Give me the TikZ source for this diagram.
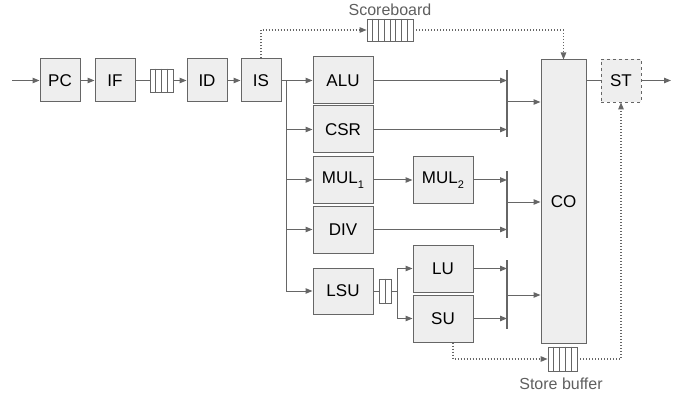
\documentclass[tikz,border=0pt]{standalone}
\usepackage{fontspec}
\setmainfont{Liberation Sans}
\usetikzlibrary{arrows.meta,calc}
\definecolor{linegray}{HTML}{666666}
\definecolor{boxgray}{HTML}{EEEEEE}
\definecolor{labelgray}{HTML}{5F5F5F}
\newcommand{\lowidx}[1]{\raisebox{-4.5pt}{\fontsize{11}{12}\selectfont #1}}
\tikzset{
  stage/.style={draw=linegray,fill=boxgray,line width=1pt,inner sep=0pt,minimum width=40,minimum height=43,font=\fontsize{17}{18}\selectfont},
  unit/.style={stage,minimum width=60,minimum height=47},
  fifo/.style={draw=linegray,fill=white,line width=.8pt,inner sep=0pt},
  wire/.style={draw=linegray,line width=1pt},
  arr/.style={wire,-{Triangle[length=7pt,width=5.5pt]}},
  dotarr/.style={arr,dotted,line width=1.1pt},
  bar/.style={draw=linegray,line width=2pt},
  caption/.style={text=labelgray,font=\fontsize{16}{18}\selectfont}
}
\begin{document}
\begin{tikzpicture}[x=1pt,y=-1pt]
\path[use as bounding box] (0,0) rectangle (683,401);
% front end
\node[stage] (pc) at (60,80.5) {PC};
\node[stage] (if) at (115,80.5) {IF};
\node[fifo,minimum width=23,minimum height=23] (ibuf) at (161.5,80.5) {};
\node[stage] (id) at (207,80.5) {ID};
\node[stage] (is) at (261,80.5) {IS};
% execution units
\node[unit] (alu) at (343,80.5) {ALU};
\node[unit] (csr) at (343,129.5) {CSR};
\node[unit,minimum height=46] (mula) at (343,180) {MUL\lowidx{1}};
\node[unit,minimum height=46] (mulb) at (443,180) {MUL\lowidx{2}};
\node[unit] (div) at (343,229.5) {DIV};
\node[unit,minimum height=46] (lsu) at (343,291) {LSU};
\node[fifo,minimum width=12,minimum height=24] (lsbuf) at (385,291) {};
\node[unit] (lu) at (443,268.5) {LU};
\node[unit] (su) at (443,318.5) {SU};
% commit and state
\node[stage,minimum width=45,minimum height=283] (co) at (563.5,201.5) {CO};
\node[stage,dashed,line width=.8pt] (st) at (621,80.5) {ST};
\node[fifo,minimum width=46,minimum height=22] (sboard) at (390,30) {};
\node[caption] (sblabel) at (390,10) {Scoreboard};
\node[fifo,minimum width=29,minimum height=24] (sbuf) at (562.5,359) {};
\node[caption] (sbuflabel) at (561,384) {Store buffer};
% fifo cells
\foreach \f/\n/\m in {ibuf/4/3,sboard/8/7,lsbuf/2/1,sbuf/5/4}
  \foreach \i in {1,...,\m}
    \draw[linegray,line width=.8pt] ($(\f.north west)!\i/\n!(\f.north east)$) -- ($(\f.south west)!\i/\n!(\f.south east)$);
% pipeline wires
\coordinate (in) at (12,80.5);
\coordinate (out) at (671,80.5);
\draw[arr] (in) -- (pc);
\draw[arr] (pc) -- (if);
\draw[wire] (if) -- (ibuf);
\draw[arr] (ibuf) -- (id);
\draw[arr] (id) -- (is);
\draw[arr] (is) -- (alu);
% issue bus
\coordinate (bus) at (286,80.5);
\draw[wire] (bus) -- (bus |- lsu.west);
\foreach \u in {csr,mula,div,lsu}
  \draw[arr] (bus |- \u.west) -- (\u.west);
\draw[arr] (mula) -- (mulb);
% load/store split
\draw[wire] (lsu) -- (lsbuf);
\coordinate (fork) at (397,291);
\draw[wire] (lsbuf) -- (fork);
\draw[wire] (fork |- lu.west) -- (fork |- su.west);
\draw[arr] (fork |- lu.west) -- (lu.west);
\draw[arr] (fork |- su.west) -- (su.west);
% write-back bars
\coordinate (bara) at (507,102);
\coordinate (barb) at (507,202);
\coordinate (barc) at (507,295);
\draw[bar] (507,70) -- (507,137);
\draw[bar] (507,171) -- (507,238);
\draw[bar] (507,260) -- (507,329);
\foreach \u/\b in {alu/bara,csr/bara,mulb/barb,div/barb,lu/barc,su/barc}
  \draw[arr] (\u.east) -- (\u.east -| \b);
\foreach \b in {bara,barb,barc}
  \draw[arr] (\b) -- (\b -| co.west);
\draw[wire] (co.east |- st.west) -- (st.west);
\draw[arr] (st) -- (out);
% dotted side paths
\draw[dotarr] (is.north) |- (sboard.west);
\draw[dotarr] (sboard.east) -| (co.north);
\draw[dotarr] ([xshift=10]su.south) |- (sbuf.west);
\draw[dotarr] (sbuf.east) -| (st.south);
\end{tikzpicture}
\end{document}
